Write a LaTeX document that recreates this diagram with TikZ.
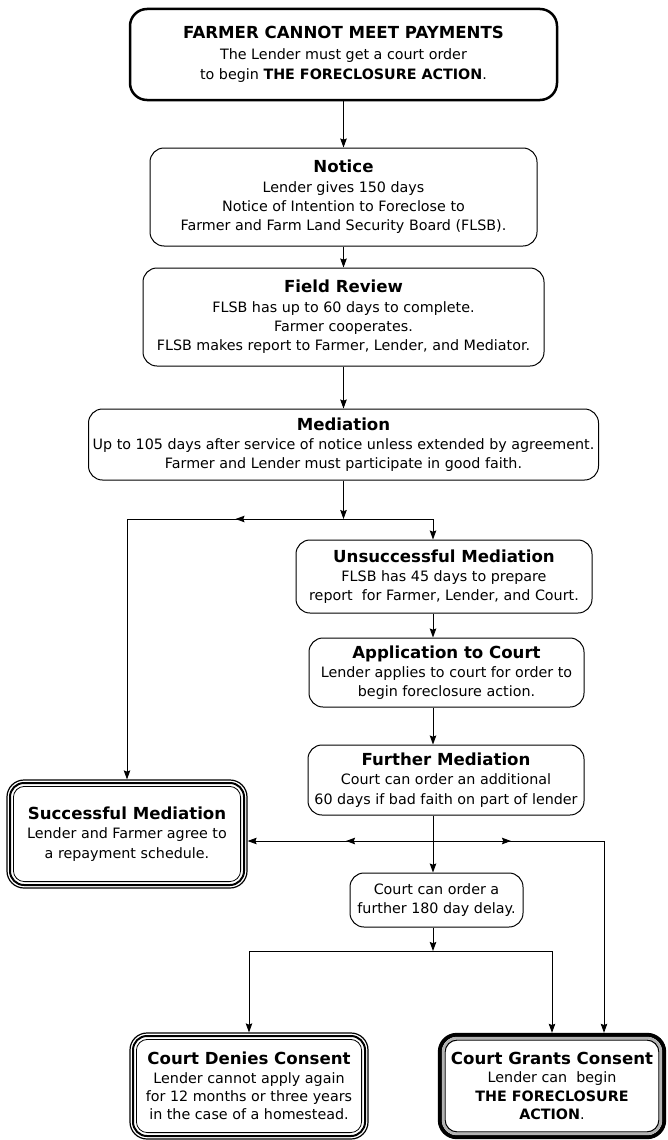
\documentclass[tikz,border=0pt]{standalone}
\usepackage{fontspec}
\setmainfont{DejaVu Sans}
\usetikzlibrary{arrows.meta,decorations.markings}
\newcommand\ttl[1]{{\fontsize{16.6}{19.5}\selectfont\bfseries #1}}
\begin{document}
\begin{tikzpicture}[x=1pt,y=-1pt,
  every node/.style={align=center, inner sep=0pt, font=\fontsize{14.3}{19.3}\selectfont},
  box/.style={draw, line width=1pt, rounded corners=14pt},
  topfont/.style={font=\fontsize{14.3}{20.5}\selectfont},
  tight/.style={font=\fontsize{14.3}{18.2}\selectfont},
  conn/.style={line width=0.9pt},
  tip/.tip={Stealth[length=9pt,width=6.5pt,inset=1.2pt]},
  arr/.style={conn, -tip},
  midarr/.style={postaction={decorate, decoration={markings, mark=at position #1 with {\arrow{tip}}}}}
]
\useasboundingbox (0,0) rectangle (668,1140);

% nodes
\node[draw, topfont, line width=2.5pt, rounded corners=17pt, minimum width=427pt, minimum height=91pt] (top) at (343.5,54.5)
  {\ttl{FARMER CANNOT MEET PAYMENTS}\\The Lender must get a court order\\to begin \textbf{THE FORECLOSURE ACTION}.};
\node[box, minimum width=387pt, minimum height=98pt] (notice) at (343.5,197)
  {\ttl{Notice}\\Lender gives 150 days\\Notice of Intention to Foreclose to\\Farmer and Farm Land Security Board (FLSB).};
\node[box, minimum width=401pt, minimum height=98pt] (field) at (343.5,317)
  {\ttl{Field Review}\\FLSB has up to 60 days to complete.\\Farmer cooperates.\\FLSB makes report to Farmer, Lender, and Mediator.};
\node[box, minimum width=510pt, minimum height=71pt] (med) at (343.5,444.5)
  {\ttl{Mediation}\\Up to 105 days after service of notice unless extended by agreement.\\Farmer and Lender must participate in good faith.};
\node[box, minimum width=296pt, minimum height=73pt] (unsucc) at (444,576.5)
  {\ttl{Unsuccessful Mediation}\\FLSB has 45 days to prepare\\report~ for Farmer, Lender, and Court.};
\node[box, minimum width=275pt, minimum height=69pt] (app) at (446.5,672.5)
  {\ttl{Application to Court}\\Lender applies to court for order to\\begin foreclosure action.};
\node[box, minimum width=276pt, minimum height=70pt] (further) at (446,780)
  {\ttl{Further Mediation}\\Court can order an additional\\60 days if bad faith on part of lender};
\node[box, minimum width=173pt, minimum height=54pt] (delay) at (436.5,900)
  {Court can order a\\further 180 day delay.};
\node[box, line width=1.2pt, rounded corners=17pt, minimum width=240pt, minimum height=108pt] (succ) at (127,834)
  {\ttl{Successful Mediation}\\Lender and Farmer agree to\\a repayment schedule.};
\node[box, tight, line width=1.2pt, rounded corners=17pt, minimum width=238pt, minimum height=106pt] (denies) at (249,1086)
  {\ttl{Court Denies Consent}\\Lender cannot apply again\\for 12 months or three years\\in the case of a homestead.};
\node[tight, minimum width=228pt, minimum height=106pt] (grants) at (552,1086)
  {\ttl{Court Grants Consent}\\Lender can~ begin\\\textbf{THE FORECLOSURE}\\\textbf{ACTION}.};

% extra borders
\draw[line width=2pt, rounded corners=14pt] ([shift={(3.6pt,-3.6pt)}]succ.north west) rectangle ([shift={(-3.6pt,3.6pt)}]succ.south east);
\draw[line width=0.8pt, rounded corners=11pt] ([shift={(7pt,-7pt)}]succ.north west) rectangle ([shift={(-7pt,7pt)}]succ.south east);
\draw[line width=2pt, rounded corners=14pt] ([shift={(3.6pt,-3.6pt)}]denies.north west) rectangle ([shift={(-3.6pt,3.6pt)}]denies.south east);
\draw[line width=0.8pt, rounded corners=11pt] ([shift={(7pt,-7pt)}]denies.north west) rectangle ([shift={(-7pt,7pt)}]denies.south east);
\draw[line width=4pt, rounded corners=17pt] ([shift={(2pt,-2pt)}]grants.north west) rectangle ([shift={(-2pt,2pt)}]grants.south east);
\draw[line width=2.6pt, gray!60, rounded corners=14pt] ([shift={(5.3pt,-5.3pt)}]grants.north west) rectangle ([shift={(-5.3pt,5.3pt)}]grants.south east);
\draw[line width=1.1pt, rounded corners=12pt] ([shift={(7.3pt,-7.3pt)}]grants.north west) rectangle ([shift={(-7.3pt,7.3pt)}]grants.south east);

% junctions
\coordinate (j1) at (343.5,519);
\coordinate (c1) at (433,519);
\coordinate (j2) at (433,841);
\coordinate (r2) at (604,841);
\coordinate (j3) at (433,951);

% connectors
\draw[arr] (top.south) -- (notice.north);
\draw[arr] (notice.south) -- (field.north);
\draw[arr] (field.south) -- (med.north);
\draw[arr] (med.south) -- (j1);
\draw[arr, midarr=108pt] (j1) -| (succ.north);
\draw[arr] (j1) -- (c1) -- (c1 |- unsucc.north);
\draw[arr] (c1 |- unsucc.south) -- (c1 |- app.north);
\draw[arr] (c1 |- app.south) -- (c1 |- further.north);
\draw[arr] (c1 |- further.south) -- (c1 |- delay.north);
\draw[arr, midarr=87pt] (j2) -- (succ.east |- j2);
\draw[arr, midarr=78pt] (j2) -- (r2) -- (r2 |- grants.north);
\draw[arr] (c1 |- delay.south) -- (j3);
\draw[arr] (j3) -| (denies.north);
\draw[arr] (j3) -| (grants.north);
\end{tikzpicture}
\end{document}
